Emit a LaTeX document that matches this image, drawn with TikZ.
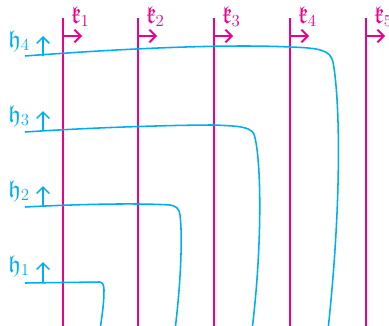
\documentclass[tikz,border=0pt]{standalone}
\usepackage{amssymb}
\usetikzlibrary{arrows.meta}
\definecolor{kmag}{RGB}{236,0,140}
\definecolor{hcyan}{RGB}{0,174,239}
\tikzset{
  kline/.style={kmag, line width=1.3pt},
  hline/.style={hcyan, line width=1.1pt},
  karrow/.style={-{Straight Barb[length=4.5pt,width=9pt]}},
  harrow/.style={-{Straight Barb[length=4.5pt,width=9pt]}},
}
\begin{document}
\begin{tikzpicture}[x=0.25mm,y=-0.25mm]
	\useasboundingbox (0,0) rectangle (389,325);
	\clip (0,0) rectangle (389,325);

	% vertical lines k_i
	\foreach \i/\x in {1/63,2/138,3/214,4/290,5/366} {
		\draw [kline] (\x,18) -- (\x,330);
		\draw [kline,karrow] (\x,36) -- (\x+19,36);
		\node [kmag,anchor=base west,inner sep=0pt] (k\i) at (\x+8,23) {\LARGE $\mathfrak{k}_{\i}$};
	}

	% curves h_i
	\draw [hline] (25,56) .. controls (130,48) and (230,44) .. (290,47)
		.. controls (320,48) and (330,50) .. (333,62)
		.. controls (340,100) and (342,200) .. (328,330);
	\draw [hline] (25,132) .. controls (100,127) and (180,125) .. (214,125)
		.. controls (235,126) and (250,126) .. (254,134)
		.. controls (262,160) and (262,250) .. (252,330);
	\draw [hline] (25,207) .. controls (80,204) and (140,203) .. (170,205)
		.. controls (176,206) and (179,208) .. (180,215)
		.. controls (183,240) and (180,290) .. (175,330);
	\draw [hline] (25,283) -- (99,282)
		.. controls (102,282) and (104,284) .. (104,290)
		.. controls (104,305) and (102,315) .. (100,330);

	\draw [hline,harrow] (43,56) -- (43,36);
	\draw [hline,harrow] (43,131) -- (43,111);
	\draw [hline,harrow] (43,206) -- (43,186);
	\draw [hline,harrow] (43,282) -- (43,262);

	\node [hcyan,anchor=base west,inner sep=0pt] (h4) at (8,47) {\LARGE $\mathfrak{h}_4$};
	\node [hcyan,anchor=base west,inner sep=0pt] (h3) at (8,122) {\LARGE $\mathfrak{h}_3$};
	\node [hcyan,anchor=base west,inner sep=0pt] (h2) at (8,197) {\LARGE $\mathfrak{h}_2$};
	\node [hcyan,anchor=base west,inner sep=0pt] (h1) at (8,272) {\LARGE $\mathfrak{h}_1$};
\end{tikzpicture}
\end{document}
